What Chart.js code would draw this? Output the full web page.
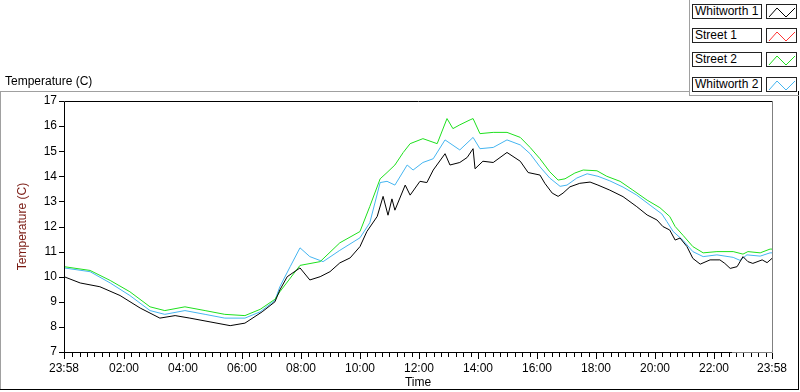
<!DOCTYPE html>
<html>
<head>
<meta charset="utf-8">
<script src="https://cdn.jsdelivr.net/npm/chart.js@4/dist/chart.umd.min.js"></script>
<style>
  html, body { margin: 0; padding: 0; background: #fff; }
  body { width: 800px; height: 392px; position: relative; overflow: hidden;
         font-family: "Liberation Sans", Arial, sans-serif; font-size: 12px; color: #000; }
  #chart { position: absolute; left: 0; top: 0; }
  .rule { position: absolute; }
  #plotTitle { position: absolute; left: 5px; top: 74px; }
  .legRow { position: absolute; left: 692px; height: 15px; }
  .legName { position: absolute; left: 0; top: 0; width: 70px; height: 15px; box-sizing: border-box;
             border: 1px solid #222; padding-left: 2px; line-height: 13px; background: #fff; }
  .legLine { position: absolute; left: 74px; top: 0; width: 31px; height: 15px; box-sizing: border-box;
             border: 1px solid #222; background: #fff; }
  .legLine svg { position: absolute; left: 0; top: 0; }
</style>
</head>
<body>
<canvas id="chart" width="800" height="392"></canvas>

<!-- panel frame -->
<div class="rule" style="left:0;top:91px;width:690px;height:1px;background:#a0a0a0"></div>
<div class="rule" style="left:0;top:91px;width:1px;height:298px;background:#a0a0a0"></div>
<div class="rule" style="left:0;top:389px;width:799px;height:1px;background:#000"></div>
<div class="rule" style="left:798px;top:91px;width:1px;height:299px;background:#000"></div>
<div class="rule" style="left:689px;top:0;width:1px;height:96px;background:#a0a0a0"></div>
<div class="rule" style="left:689px;top:95px;width:110px;height:1px;background:#a0a0a0"></div>

<div id="plotTitle">Temperature (C)</div>
<div id="legend"></div>

<script>
'use strict';

// minutes after 23:58 (start of the log)
const whitworth1Times = [0, 33, 73, 114, 155, 195, 226, 256, 297, 338, 368, 403, 429, 439, 454, 480, 500, 521, 541, 561,
  582, 602, 616, 637, 649, 659, 667, 673, 694, 704, 724, 738, 751, 775, 785, 805, 820, 832, 836, 852, 873, 901,
  928, 944, 968, 978, 993, 1005, 1015, 1029, 1049, 1070, 1086, 1110, 1137, 1165, 1186, 1206, 1218, 1232, 1243, 1253,
  1267, 1279, 1294, 1314, 1334, 1344, 1355, 1369, 1381, 1391, 1401, 1420, 1430, 1440];
const whitworth1Temps = [10.0, 9.75, 9.6, 9.25, 8.75, 8.35, 8.45, 8.35, 8.2, 8.05, 8.15, 8.6, 9.0, 9.47, 10.0, 10.35, 9.87, 10.0, 10.2, 10.55,
  10.75, 11.2, 11.8, 12.4, 13.2, 12.45, 13.1, 12.65, 13.65, 13.25, 13.8, 13.75, 14.25, 14.9, 14.45, 14.55, 14.75, 15.1, 14.3, 14.6, 14.55, 14.95,
  14.6, 14.15, 14.05, 13.72, 13.33, 13.2, 13.33, 13.58, 13.72, 13.77, 13.65, 13.45, 13.19, 12.79, 12.46, 12.26, 12.0, 11.86, 11.46, 11.54,
  11.2, 10.73, 10.5, 10.67, 10.67, 10.53, 10.33, 10.4, 10.8, 10.6, 10.53, 10.67, 10.56, 10.73];

const street1Times = [];
const street1Temps = [];

const street2Times = [0, 53, 94, 134, 175, 205, 246, 287, 327, 368, 399, 429, 439, 480, 521, 561, 602, 622, 643, 657,
  673, 690, 704, 730, 759, 779, 791, 805, 826, 832, 846, 873, 901, 928, 948, 968, 988, 1005, 1019, 1039,
  1056, 1084, 1104, 1131, 1157, 1186, 1212, 1232, 1243, 1259, 1279, 1300, 1328, 1361, 1381, 1391, 1416, 1436, 1440];
const street2Temps = [10.4, 10.25, 9.85, 9.4, 8.8, 8.65, 8.8, 8.65, 8.5, 8.45, 8.7, 9.1, 9.4, 10.45, 10.6, 11.35, 11.8, 12.8, 13.9, 14.15,
  14.45, 14.95, 15.3, 15.5, 15.3, 16.3, 15.9, 16.05, 16.25, 16.3, 15.7, 15.75, 15.75, 15.55, 15.15, 14.7, 14.18, 13.85, 13.9, 14.13,
  14.25, 14.22, 14.0, 13.8, 13.45, 13.05, 12.75, 12.4, 12.0, 11.65, 11.2, 10.95, 11.0, 11.0, 10.9, 11.0, 10.95, 11.1, 11.1];

const whitworth2Times = [0, 53, 94, 134, 175, 205, 246, 287, 327, 368, 399, 429, 439, 460, 480, 500, 527, 561, 602, 622,
  643, 657, 673, 698, 710, 730, 751, 775, 805, 832, 846, 873, 901, 928, 948, 968, 988, 1009, 1023, 1043,
  1064, 1086, 1110, 1137, 1165, 1192, 1216, 1226, 1239, 1259, 1279, 1300, 1328, 1361, 1375, 1389, 1416, 1436, 1440];
const whitworth2Temps = [10.35, 10.2, 9.75, 9.25, 8.65, 8.5, 8.65, 8.5, 8.35, 8.35, 8.6, 9.05, 9.6, 10.4, 11.15, 10.8, 10.6, 11.05, 11.55, 12.15,
  13.75, 13.8, 13.65, 14.45, 14.25, 14.55, 14.7, 15.45, 15.05, 15.55, 15.1, 15.15, 15.45, 15.25, 14.9, 14.38, 13.93, 13.6, 13.65, 13.93,
  14.1, 14.0, 13.82, 13.57, 13.25, 12.85, 12.5, 12.2, 11.8, 11.45, 11.0, 10.8, 10.87, 10.77, 10.65, 10.87, 10.82, 10.95, 10.95];

const seriesNames = ['Whitworth 1', 'Street 1', 'Street 2', 'Whitworth 2'];
const seriesColors = ['#000000', '#ff3333', '#1ee01e', '#45b5f0'];

// labelled x ticks, and the y range
const majorTimes = [0, 122, 242, 362, 482, 602, 722, 842, 962, 1082, 1202, 1322, 1440];
const yMin = 7;
const yMax = 17;

const clock = function(t) {
  const m = (23 * 60 + 58 + t) % 1440;
  return String(Math.floor(m / 60)).padStart(2, '0') + ':' + String(m % 60).padStart(2, '0');
};

const toPoints = (times, temps) => times.map((t, i) => ({ x: t, y: temps[i] }));

const allTimes = [whitworth1Times, street1Times, street2Times, whitworth2Times];
const allTemps = [whitworth1Temps, street1Temps, street2Temps, whitworth2Temps];

// LabVIEW-ish legend
const legend = document.getElementById('legend');
seriesNames.forEach((name, i) => {
  const row = document.createElement('div');
  row.className = 'legRow';
  row.style.top = (4 + i * 24.2) + 'px';
  row.innerHTML = `<div class="legName">${name}</div>
    <div class="legLine"><svg width="31" height="15"><polyline points="2,12 10,3 19,12 28,3"
      fill="none" stroke="${seriesColors[i]}" stroke-width="1"/></svg></div>`;
  legend.appendChild(row);
});

// plot frame + tick marks
const axisDecor = {
  id: 'axisDecor',
  afterDraw(chart) {
    const { ctx, chartArea: a, scales: { x, y } } = chart;
    ctx.save();
    ctx.lineWidth = 1;
    ctx.strokeStyle = '#000';
    ctx.beginPath();
    ctx.moveTo(a.left + 0.5, a.bottom + 0.5);
    ctx.lineTo(a.left + 0.5, a.top + 0.5);
    ctx.lineTo(a.right + 0.5, a.top + 0.5);
    ctx.moveTo(a.left, a.bottom + 0.5);
    ctx.lineTo(a.right - 40, a.bottom + 0.5);
    ctx.stroke();
    ctx.strokeStyle = '#808080';
    ctx.beginPath();
    ctx.moveTo(a.right - 40, a.bottom + 0.5);
    ctx.lineTo(a.right + 0.5, a.bottom + 0.5);
    ctx.lineTo(a.right + 0.5, a.top + 1);
    ctx.stroke();

    ctx.strokeStyle = '#000';
    ctx.beginPath();
    x.ticks.forEach(t => {
      const px = Math.round(x.getPixelForValue(t.value)) + 0.5;
      const len = majorTimes.includes(t.value) ? 6 : 4;
      ctx.moveTo(px, a.bottom + 1);
      ctx.lineTo(px, a.bottom + 1 + len);
    });
    y.ticks.forEach(t => {
      const py = Math.round(y.getPixelForValue(t.value)) + 0.5;
      ctx.moveTo(a.left - 5, py);
      ctx.lineTo(a.left, py);
    });
    ctx.stroke();
    ctx.restore();
  }
};

const font = { family: '"Liberation Sans", Arial, sans-serif', size: 12 };

new Chart(document.getElementById('chart'), {
  type: 'line',
  data: {
    datasets: seriesNames.map((name, i) => ({
      label: name,
      data: toPoints(allTimes[i], allTemps[i]),
      borderColor: seriesColors[i],
      borderWidth: 1,
      pointRadius: 0,
      tension: 0,
      fill: false
    }))
  },
  options: {
    responsive: false,
    animation: false,
    events: [],
    layout: { padding: { top: 101, right: 28, left: 0, bottom: 0 } },
    plugins: { legend: { display: false }, tooltip: { enabled: false } },
    scales: {
      x: {
        type: 'linear',
        min: 0,
        max: 1440,
        grid: { display: false, drawTicks: false },
        border: { display: false },
        afterBuildTicks: axis => {
          const ticks = [];
          for (let t = 2; t < 1440; t += 15) {
            if (!majorTimes.includes(t) && t > 2) ticks.push(t);
          }
          axis.ticks = majorTimes.concat(ticks).sort((p, q) => p - q).map(v => ({ value: v }));
        },
        ticks: {
          autoSkip: false,
          maxRotation: 0,
          padding: 9,
          color: '#000',
          font: font,
          callback: v => majorTimes.includes(v) ? clock(v) : ''
        },
        title: { display: true, text: 'Time', color: '#000', font: font, padding: { top: 0, bottom: 2 } },
        afterFit: s => { s.height = 40; }
      },
      y: {
        min: yMin,
        max: yMax,
        grid: { display: false, drawTicks: false },
        border: { display: false },
        ticks: { stepSize: 1, padding: 7, color: '#000', font: font },
        title: { display: true, text: 'Temperature (C)', color: '#7a1a12', font: font, padding: { top: 15, bottom: 0 } },
        afterFit: s => { s.width = 64; }
      }
    }
  },
  plugins: [axisDecor]
});
</script>
</body>
</html>
